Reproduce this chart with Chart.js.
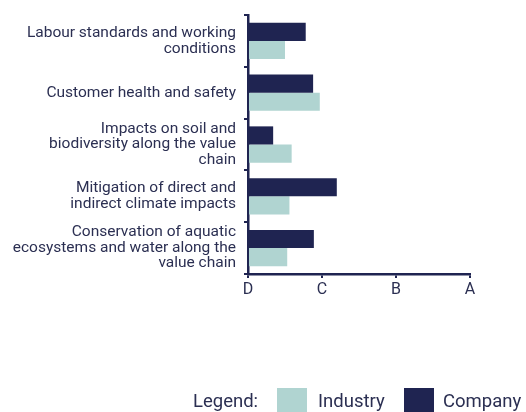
<!DOCTYPE html>
<html>
<head>
<meta charset="utf-8">
<script src="https://cdn.jsdelivr.net/npm/chart.js@4"></script>
<style>
    html, body { margin: 0; padding: 0; background: #fff; }
    #wrap { position: relative; width: 526px; height: 412px; overflow: hidden; }
    #grafico { display: block; }
    #legend { position: absolute; left: 0; top: 388px; width: 526px; height: 24px;
        font-family: Roboto, sans-serif; font-size: 18.5px; color: #2b2f52; }
    #legend span { position: absolute; top: 0; line-height: 26px; white-space: nowrap; }
    #legend .box { width: 30px; height: 26px; }
</style>
</head>
<body>
<div id="wrap">
    <canvas id="grafico" width="526" height="412"></canvas>
    <div id="legend">
        <span style="left:193px">Legend:</span>
        <span class="box" style="left:277px;background:#b0d4d1"></span>
        <span style="left:318px">Industry</span>
        <span class="box" style="left:404px;background:#1f2451"></span>
        <span style="left:443px">Company</span>
    </div>
</div>
<script>
var categorias = [
    ['Labour standards and working', 'conditions'],
    'Customer health and safety',
    ['Impacts on soil and', 'biodiversity along the value', 'chain'],
    ['Mitigation of direct and', 'indirect climate impacts'],
    ['Conservation of aquatic', 'ecosystems and water along the', 'value chain']
];
var notas = ['D', 'C', 'B', 'A'];
var company = [0.78, 0.88, 0.34, 1.20, 0.89];
var industry = [0.50, 0.97, 0.59, 0.56, 0.53];

var colorTexto = '#2b2f52';
var colorEje = '#1f2451';

var ctx = document.getElementById('grafico').getContext('2d');
new Chart(ctx, {
    type: 'bar',
    data: {
        labels: categorias,
        datasets: [
            {
                label: 'Company',
                data: company,
                backgroundColor: '#1f2451',
                categoryPercentage: 0.7,
                barPercentage: 1.0
            },
            {
                label: 'Industry',
                data: industry,
                backgroundColor: '#b0d4d1',
                categoryPercentage: 0.7,
                barPercentage: 1.0
            }
        ]
    },
    options: {
        indexAxis: 'y',
        responsive: false,
        animation: false,
        layout: {
            padding: { top: 15, left: 0, right: 56, bottom: 110 }
        },
        plugins: {
            legend: { display: false },
            tooltip: { enabled: false }
        },
        scales: {
            x: {
                min: 0,
                max: 3,
                ticks: {
                    stepSize: 1,
                    color: colorTexto,
                    font: { family: 'Roboto', size: 16 },
                    padding: 2,
                    callback: function (v) { return notas[v]; }
                },
                grid: {
                    drawOnChartArea: false,
                    tickLength: 4,
                    color: colorEje,
                    lineWidth: 2
                },
                border: { color: colorEje, width: 2.5 },
                afterFit: function (scale) {
                    scale.height = 28;
                    scale.paddingLeft = 0;
                    scale.paddingRight = 0;
                }
            },
            y: {
                ticks: {
                    autoSkip: false,
                    color: colorTexto,
                    font: { family: 'Roboto', size: 15.5, lineHeight: 1.0 },
                    padding: 8
                },
                grid: {
                    offset: true,
                    drawOnChartArea: false,
                    tickLength: 4,
                    color: colorEje,
                    lineWidth: 2
                },
                border: { color: colorEje, width: 2.5 },
                afterFit: function (scale) {
                    scale.width = 248;
                    scale.paddingTop = 0;
                    scale.paddingBottom = 0;
                }
            }
        }
    }
});
</script>
</body>
</html>
